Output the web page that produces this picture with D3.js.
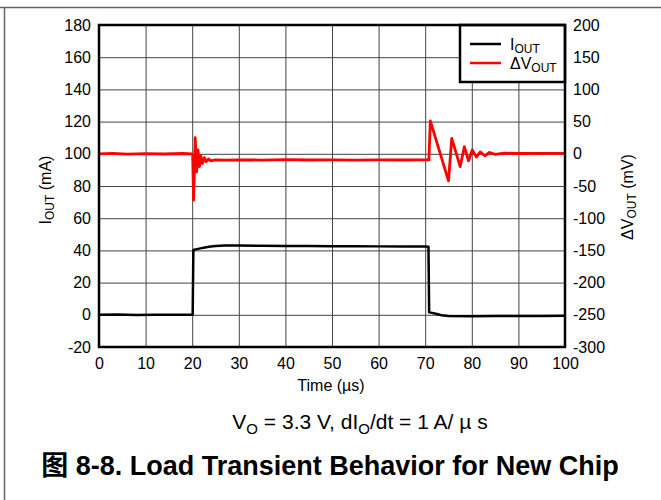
<!DOCTYPE html>
<html><head><meta charset="utf-8">
<script src="https://cdn.jsdelivr.net/npm/d3@7"></script>
<style>body{margin:0;background:#fff}svg{display:block}text{font-family:"Liberation Sans",Arial,"Noto Sans CJK SC",sans-serif;fill:#000}</style>
</head><body><svg id="c" width="661" height="500"></svg>
<script>
// ---- data ----
const xTicks = [0,10,20,30,40,50,60,70,80,90,100];
const yLeftTicks = [-20,0,20,40,60,80,100,120,140,160,180];
const yRightTicks = [-300,-250,-200,-150,-100,-50,0,50,100,150,200];
const ioutTime = [0,4,8,12,16,19.9,20.1,20.25,21,22,23,24,25,27,30,35,40,45,50,55,60,65,70,70.7,70.85,71.5,72.5,73.5,75,80,85,90,95,100];
const ioutValues = [0,0.2,-0.1,0.1,0,0.1,0,40.3,40.8,41.4,42,42.4,42.7,43,43,42.9,42.8,42.7,42.6,42.6,42.5,42.5,42.4,42.3,1.5,1.2,0.5,-0.3,-0.8,-0.9,-0.8,-0.8,-0.7,-0.6];
const dvTime = [0,3,6,10,14,18,19.9,20.1,20.3,20.65,20.95,21.25,21.55,21.85,22.2,22.6,23,23.5,24,25,27,30,35,40,45,50,55,60,65,70,70.8,71.1,75.0,75.7,77.5,78.4,79.3,80.1,81.0,81.8,82.8,83.8,85,87,90,95,100];
const dvValues = [0,0.6,-0.5,0.4,-0.3,0.5,0,-2,-72,25,-28,6,-20,-3,-15,-6,-12,-8,-11,-9.5,-9.8,-9.3,-9.7,-9.2,-9.6,-9.3,-9.7,-9.4,-9.6,-9.3,-9.5,51,-42,24,-20,11,-11,6,-5,3,-3,2,-1,1,0.5,0.8,0.6];

const svg = d3.select("#c");
const L=99,R=565,T=25,B=347;
const x = d3.scaleLinear().domain([0,100]).range([L,R]);
const yL = d3.scaleLinear().domain([-20,180]).range([B,T]);
const yR = d3.scaleLinear().domain([-300,200]).range([B,T]);
const fmt = d => String(d);

// outer frame lines
svg.append("line").attr("x1",0).attr("x2",661).attr("y1",7.5).attr("y2",7.5).attr("stroke","#666").attr("stroke-width",1.5);
svg.append("line").attr("x1",4.5).attr("x2",4.5).attr("y1",7).attr("y2",500).attr("stroke","#666").attr("stroke-width",1.5);

// gridlines
svg.append("g").attr("transform",`translate(0,${B})`)
  .call(d3.axisBottom(x).tickValues(xTicks).tickSize(-(B-T)).tickFormat(""))
  .call(g=>g.select(".domain").remove())
  .call(g=>g.selectAll("line").attr("stroke","#444").attr("stroke-width",1));
svg.append("g").attr("transform",`translate(${L},0)`)
  .call(d3.axisLeft(yL).tickValues(yLeftTicks).tickSize(-(R-L)).tickFormat(""))
  .call(g=>g.select(".domain").remove())
  .call(g=>g.selectAll("line").attr("stroke","#444").attr("stroke-width",1));

// tick labels
const fs = "16px";
svg.append("g").attr("transform",`translate(0,${B})`)
  .call(d3.axisBottom(x).tickValues(xTicks).tickSize(0).tickPadding(11).tickFormat(fmt))
  .call(g=>g.select(".domain").remove())
  .call(g=>g.selectAll("text").style("font-size",fs).attr("fill","#000"));
svg.append("g").attr("transform",`translate(${L},0)`)
  .call(d3.axisLeft(yL).tickValues(yLeftTicks).tickSize(0).tickPadding(8).tickFormat(fmt))
  .call(g=>g.select(".domain").remove())
  .call(g=>g.selectAll("text").style("font-size",fs).attr("fill","#000"));
svg.append("g").attr("transform",`translate(${R},0)`)
  .call(d3.axisRight(yR).tickValues(yRightTicks).tickSize(0).tickPadding(8).tickFormat(fmt))
  .call(g=>g.select(".domain").remove())
  .call(g=>g.selectAll("text").style("font-size",fs).attr("fill","#000"));

// clip
svg.append("clipPath").attr("id","clip").append("rect").attr("x",L).attr("y",T).attr("width",R-L).attr("height",B-T);

const ioutData = ioutTime.map((t,i)=>[t,ioutValues[i]]);
const dvData = dvTime.map((t,i)=>[t,dvValues[i]]);
svg.append("path").datum(ioutData).attr("clip-path","url(#clip)")
  .attr("d",d3.line().x(d=>x(d[0])).y(d=>yL(d[1])))
  .attr("fill","none").attr("stroke","#000").attr("stroke-width",2.5).attr("stroke-linejoin","round");
svg.append("path").datum(dvData).attr("clip-path","url(#clip)")
  .attr("d",d3.line().x(d=>x(d[0])).y(d=>yR(d[1])))
  .attr("fill","none").attr("stroke","#ff0000").attr("stroke-width",2.8).attr("stroke-linejoin","round");

// legend
const lg = svg.append("g");
lg.append("rect").attr("x",460).attr("y",T).attr("width",R-460).attr("height",57).attr("fill","#fff").attr("stroke","#000").attr("stroke-width",2.5);
lg.append("line").attr("x1",470).attr("x2",501).attr("y1",44).attr("y2",44).attr("stroke","#000").attr("stroke-width",2.5);
lg.append("line").attr("x1",470).attr("x2",501).attr("y1",63).attr("y2",63).attr("stroke","#ff0000").attr("stroke-width",2.5);
const t1 = lg.append("text").attr("x",510).attr("y",50).style("font-size","16px");
t1.append("tspan").text("I");
t1.append("tspan").attr("dy",3).style("font-size","12px").text("OUT");
const t2 = lg.append("text").attr("x",510).attr("y",69).style("font-size","16px");
t2.append("tspan").text("ΔV");
t2.append("tspan").attr("dy",3).style("font-size","12px").text("OUT");

// plot border
svg.append("rect").attr("x",L).attr("y",T).attr("width",R-L).attr("height",B-T).attr("fill","none").attr("stroke","#000").attr("stroke-width",2.5);

// axis titles
const yl = svg.append("text").attr("transform","translate(51,190) rotate(-90)").attr("text-anchor","middle").style("font-size","16px");
yl.append("tspan").text("I");
yl.append("tspan").attr("dy",3).style("font-size","12px").text("OUT");
yl.append("tspan").attr("dy",-3).text(" (mA)");
const yr = svg.append("text").attr("transform","translate(633,197) rotate(-90)").attr("text-anchor","middle").style("font-size","16px");
yr.append("tspan").text("ΔV");
yr.append("tspan").attr("dy",3).style("font-size","12px").text("OUT");
yr.append("tspan").attr("dy",-3).text(" (mV)");
svg.append("text").attr("x",331).attr("y",391).attr("text-anchor","middle").style("font-size","16px").text("Time (µs)");

// subtitle
const st = svg.append("text").attr("x",360).attr("y",429).attr("text-anchor","middle").style("font-size","21px");
st.append("tspan").text("V");
st.append("tspan").attr("dy",5).style("font-size","15px").text("O");
st.append("tspan").attr("dy",-5).text(" = 3.3 V, dI");
st.append("tspan").attr("dy",5).style("font-size","15px").text("O");
st.append("tspan").attr("dy",-5).text("/dt = 1 A/ µ s");

// title
svg.append("text").attr("x",330).attr("y",475).attr("text-anchor","middle").style("font-size","27px").style("font-weight","bold").text("图 8-8. Load Transient Behavior for New Chip");
</script></body></html>
